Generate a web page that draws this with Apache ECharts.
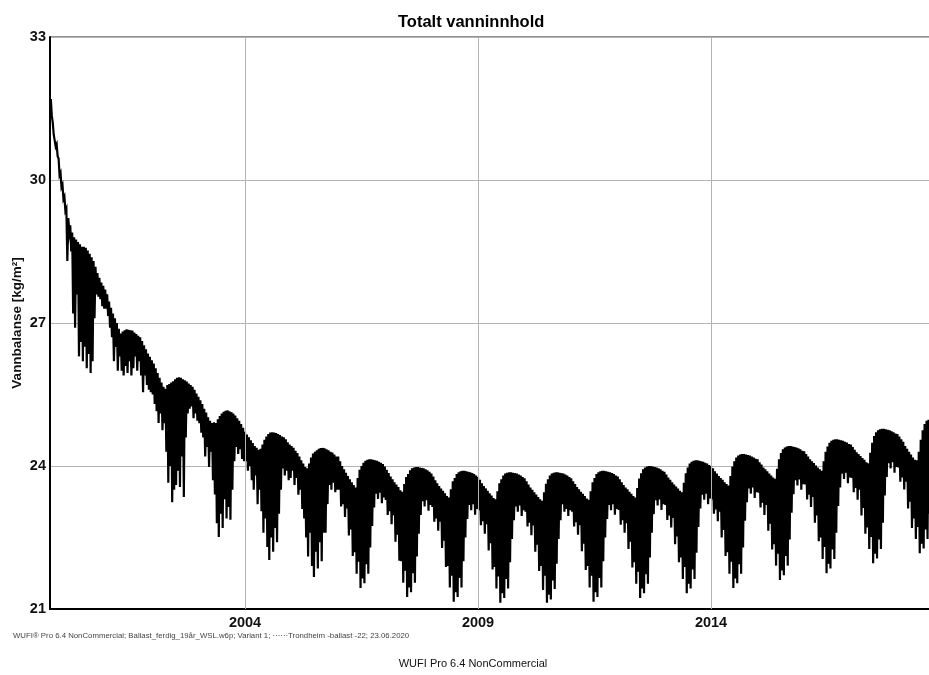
<!DOCTYPE html>
<html>
<head>
<meta charset="utf-8">
<title>Totalt vanninnhold</title>
<script src="https://cdn.jsdelivr.net/npm/echarts@6/dist/echarts.min.js"></script>
<style>
  html, body { margin: 0; padding: 0; background: #fff; }
  #chart { width: 929px; height: 675px; }
</style>
</head>
<body>
<div id="chart"></div>
<script>
// Total water content of the ballast layer, sampled twice a month.
// Each slot holds the upper level and the lower level reached within it.
const seasonYears = [1999, 2000, 2001, 2002, 2003, 2004, 2005, 2006, 2007, 2008,
                     2009, 2010, 2011, 2012, 2013, 2014, 2015, 2016, 2017, 2018];
const firstSlot = 20;      // 1999 starts at slot 20 of 24
const slotsPerYear = 24;

const upperLevels = [
  [31.7, 31.2, 30.95, 30.75],
  [30.45, 30.15, 29.9, 29.65, 29.4, 29.2, 29.05, 28.9, 28.8, 28.75, 28.7, 28.65, 28.6, 28.6, 28.58, 28.52, 28.45, 28.38, 28.3, 28.18, 28.05, 27.95, 27.85, 27.78],
  [27.7, 27.6, 27.45, 27.32, 27.2, 27.1, 27.0, 26.88, 26.78, 26.82, 26.85, 26.87, 26.86, 26.85, 26.84, 26.8, 26.77, 26.73, 26.7, 26.62, 26.53, 26.45, 26.36, 26.29],
  [26.22, 26.15, 26.05, 25.95, 25.85, 25.75, 25.66, 25.62, 25.7, 25.72, 25.75, 25.78, 25.82, 25.85, 25.86, 25.85, 25.82, 25.8, 25.77, 25.73, 25.7, 25.66, 25.6, 25.52],
  [25.45, 25.38, 25.3, 25.2, 25.12, 25.02, 24.95, 24.9, 24.92, 24.9, 24.98, 25.05, 25.1, 25.14, 25.16, 25.17, 25.15, 25.13, 25.1, 25.06, 25.0, 24.95, 24.88, 24.8],
  [24.72, 24.66, 24.6, 24.54, 24.48, 24.42, 24.38, 24.34, 24.36, 24.45, 24.55, 24.62, 24.67, 24.7, 24.71, 24.7, 24.69, 24.67, 24.65, 24.62, 24.6, 24.56, 24.5, 24.45],
  [24.42, 24.38, 24.32, 24.27, 24.2, 24.12, 24.05, 23.98, 23.95, 24.05, 24.18, 24.26, 24.3, 24.33, 24.36, 24.38, 24.38, 24.37, 24.35, 24.33, 24.3, 24.28, 24.24, 24.2],
  [24.2, 24.1, 24.0, 23.93, 23.86, 23.79, 23.72, 23.66, 23.6, 23.55, 23.75, 23.92, 24.0, 24.07, 24.11, 24.13, 24.14, 24.14, 24.13, 24.12, 24.11, 24.09, 24.07, 24.04],
  [23.99, 23.92, 23.85, 23.78, 23.72, 23.66, 23.61, 23.56, 23.49, 23.46, 23.62, 23.77, 23.83, 23.91, 23.95, 23.97, 23.98, 23.98, 23.97, 23.96, 23.95, 23.93, 23.91, 23.88],
  [23.84, 23.78, 23.7, 23.64, 23.58, 23.53, 23.48, 23.43, 23.37, 23.34, 23.51, 23.68, 23.75, 23.83, 23.87, 23.89, 23.9, 23.9, 23.89, 23.88, 23.87, 23.85, 23.83, 23.8],
  [23.77, 23.71, 23.64, 23.58, 23.53, 23.48, 23.43, 23.38, 23.33, 23.3, 23.47, 23.64, 23.72, 23.8, 23.84, 23.86, 23.87, 23.87, 23.86, 23.85, 23.84, 23.82, 23.8, 23.77],
  [23.74, 23.68, 23.61, 23.55, 23.5, 23.45, 23.4, 23.35, 23.3, 23.27, 23.45, 23.63, 23.72, 23.8, 23.84, 23.86, 23.87, 23.87, 23.86, 23.85, 23.84, 23.82, 23.8, 23.77],
  [23.74, 23.68, 23.62, 23.56, 23.51, 23.46, 23.42, 23.37, 23.32, 23.29, 23.47, 23.66, 23.75, 23.83, 23.87, 23.89, 23.9, 23.9, 23.89, 23.88, 23.87, 23.85, 23.83, 23.8],
  [23.78, 23.72, 23.66, 23.6, 23.55, 23.51, 23.46, 23.42, 23.37, 23.34, 23.54, 23.74, 23.85, 23.93, 23.97, 23.99, 24.0, 24.0, 23.99, 23.98, 23.97, 23.95, 23.93, 23.9],
  [23.88, 23.82, 23.76, 23.71, 23.66, 23.61, 23.57, 23.53, 23.48, 23.45, 23.65, 23.85, 23.97, 24.05, 24.09, 24.11, 24.12, 24.12, 24.11, 24.1, 24.09, 24.07, 24.05, 24.02],
  [24.0, 23.95, 23.89, 23.84, 23.79, 23.75, 23.71, 23.66, 23.62, 23.59, 23.79, 23.99, 24.1, 24.18, 24.22, 24.24, 24.25, 24.25, 24.24, 24.23, 24.22, 24.2, 24.18, 24.15],
  [24.14, 24.08, 24.03, 23.97, 23.93, 23.89, 23.84, 23.8, 23.76, 23.73, 23.94, 24.14, 24.27, 24.35, 24.39, 24.41, 24.42, 24.42, 24.41, 24.4, 24.39, 24.37, 24.35, 24.32],
  [24.31, 24.25, 24.2, 24.14, 24.1, 24.06, 24.01, 23.97, 23.93, 23.9, 24.1, 24.3, 24.41, 24.49, 24.53, 24.55, 24.56, 24.56, 24.55, 24.54, 24.53, 24.51, 24.49, 24.46],
  [24.45, 24.4, 24.34, 24.29, 24.25, 24.21, 24.17, 24.13, 24.08, 24.06, 24.28, 24.49, 24.63, 24.71, 24.75, 24.77, 24.78, 24.78, 24.77, 24.76, 24.75, 24.73, 24.71, 24.68],
  [24.67, 24.62, 24.56, 24.51, 24.42, 24.36, 24.3, 24.24, 24.18, 24.13, 24.12, 24.3, 24.55, 24.75, 24.88, 24.95, 24.97, 24.97]
];

const lowerLevels = [
  [31.35, 30.95, 30.7, 30.5],
  [30.1, 29.85, 29.6, 29.35, 28.3, 28.9, 28.5, 27.2, 26.9, 27.6, 26.3, 26.6, 26.2, 26.5, 26.05, 26.35, 25.95, 26.2, 27.1, 27.6, 27.55, 27.5, 27.35, 27.3],
  [27.3, 27.15, 26.9, 26.7, 26.2, 26.5, 26.0, 26.3, 26.0, 25.9, 26.1, 25.95, 26.2, 25.9, 26.05, 26.3, 26.0, 26.2, 25.9, 25.55, 25.9, 25.7, 25.6, 25.55],
  [25.5, 25.3, 25.15, 24.9, 25.1, 24.75, 24.9, 24.3, 23.65, 24.0, 23.24, 23.5, 23.6, 23.9, 23.56, 24.2, 23.35, 24.6, 25.1, 25.2, 25.25, 25.0, 25.1, 24.95],
  [24.9, 24.7, 24.6, 24.2, 24.4, 23.98, 24.3, 23.7, 23.4, 22.8, 22.51, 23.0, 22.7, 23.3, 22.9, 23.14, 22.87, 23.5, 24.1, 24.4, 24.25, 24.35, 24.15, 24.1],
  [24.1, 23.9, 24.0, 23.7, 23.5, 23.8, 23.2, 23.5, 23.05, 22.6, 22.9, 22.3, 22.03, 22.5, 22.2, 22.7, 22.4, 23.0, 23.5, 23.95, 23.8, 23.9, 23.7, 23.75],
  [23.9, 23.6, 23.75, 23.4, 23.5, 23.1, 22.9, 22.5, 22.1, 22.6, 21.9, 21.67, 22.2, 21.85, 22.4, 22.0, 22.6, 22.6, 23.2, 23.6, 23.5, 23.65, 23.45, 23.5],
  [23.5, 23.15, 23.2, 22.93, 23.11, 22.54, 22.67, 22.11, 22.19, 21.74, 21.99, 21.44, 21.64, 21.54, 21.94, 21.74, 22.29, 22.74, 23.13, 23.42, 23.31, 23.44, 23.22, 23.34],
  [23.29, 22.97, 23.05, 22.78, 22.97, 22.41, 22.56, 22.01, 22.0, 21.55, 21.8, 21.25, 21.45, 21.35, 21.75, 21.55, 22.1, 22.58, 22.97, 23.26, 23.15, 23.28, 23.06, 23.18],
  [23.14, 22.83, 22.9, 22.64, 22.83, 22.28, 22.43, 21.88, 21.9, 21.45, 21.7, 21.15, 21.35, 21.25, 21.65, 21.45, 22.0, 22.5, 22.89, 23.18, 23.07, 23.2, 22.98, 23.1],
  [23.07, 22.76, 22.84, 22.58, 22.78, 22.23, 22.38, 21.83, 21.88, 21.43, 21.68, 21.13, 21.33, 21.23, 21.63, 21.43, 21.98, 22.47, 22.86, 23.15, 23.04, 23.17, 22.95, 23.07],
  [23.04, 22.73, 22.81, 22.55, 22.75, 22.2, 22.35, 21.8, 21.9, 21.4, 21.7, 21.13, 21.3, 21.2, 21.6, 21.42, 21.95, 22.47, 22.86, 23.2, 23.04, 23.1, 22.95, 23.07],
  [23.04, 22.73, 22.82, 22.56, 22.76, 22.21, 22.37, 21.82, 21.9, 21.45, 21.7, 21.15, 21.35, 21.25, 21.65, 21.45, 22.0, 22.5, 22.89, 23.18, 23.07, 23.2, 22.98, 23.1],
  [23.08, 22.77, 22.86, 22.6, 22.8, 22.26, 22.41, 21.87, 21.98, 21.53, 21.78, 21.23, 21.43, 21.33, 21.73, 21.53, 22.08, 22.6, 22.99, 23.28, 23.17, 23.3, 23.08, 23.2],
  [23.18, 22.87, 22.96, 22.71, 22.91, 22.36, 22.52, 21.98, 22.08, 21.63, 21.88, 21.33, 21.53, 21.43, 21.83, 21.63, 22.18, 22.72, 23.11, 23.4, 23.29, 23.42, 23.2, 23.32],
  [23.3, 23.0, 23.09, 22.84, 23.04, 22.5, 22.66, 22.11, 22.19, 21.74, 21.99, 21.44, 21.64, 21.54, 21.94, 21.74, 22.29, 22.85, 23.24, 23.53, 23.42, 23.55, 23.33, 23.45],
  [23.44, 23.13, 23.23, 22.97, 23.18, 22.64, 22.79, 22.25, 22.36, 21.91, 22.16, 21.61, 21.81, 21.71, 22.11, 21.91, 22.46, 23.02, 23.41, 23.7, 23.59, 23.72, 23.5, 23.62],
  [23.61, 23.3, 23.4, 23.14, 23.35, 22.81, 22.96, 22.42, 22.5, 22.05, 22.3, 21.75, 21.95, 21.85, 22.25, 22.05, 22.6, 23.16, 23.55, 23.84, 23.73, 23.86, 23.64, 23.76],
  [23.75, 23.45, 23.54, 23.29, 23.5, 22.96, 23.12, 22.58, 22.71, 22.26, 22.51, 21.96, 22.16, 22.06, 22.46, 22.26, 22.81, 23.38, 23.77, 24.06, 23.95, 24.08, 23.86, 23.98],
  [23.97, 23.67, 23.76, 23.51, 23.67, 23.11, 23.25, 22.7, 22.9, 22.47, 22.72, 22.17, 22.37, 22.27, 22.67, 22.47, 23.0, 23.55]
];

const yearTicks = [2004, 2009, 2014];
const yTicks = { min: 21, max: 33, step: 3 };
const axisStart = 1999.8155;
const axisEnd = 2018.699;   // plot runs one pixel past the right edge

const FONT = '"Liberation Sans", Arial, Helvetica, sans-serif';

// Zig-zag between the upper and lower level of every slot
const points = [];
seasonYears.forEach((yr, yi) => {
  const start = yi === 0 ? firstSlot : 0;
  upperLevels[yi].forEach((u, j) => {
    const t = yr + (start + j) / slotsPerYear;
    points.push([t, u]);
    points.push([t + 0.5 / slotsPerYear, lowerLevels[yi][j]]);
  });
});

const chart = echarts.init(document.getElementById('chart'), null, { renderer: 'canvas' });

chart.setOption({
  animation: false,
  backgroundColor: '#ffffff',
  title: {
    text: 'Totalt vanninnhold',
    left: 393,
    top: 9,
    textStyle: { fontFamily: FONT, fontSize: 16.5, fontWeight: 'bold', color: '#000' }
  },
  grid: {
    left: 50, right: -1, top: 37, bottom: 66,
    outerBoundsMode: 'none',
    containLabel: false,
    show: true, borderColor: '#222', borderWidth: 1, backgroundColor: 'transparent'
  },
  xAxis: {
    type: 'value',
    min: axisStart,
    max: axisEnd,
    axisLine: { show: true, lineStyle: { color: '#000', width: 2 } },
    axisTick: { show: false },
    splitLine: { show: false },
    axisLabel: {
      customValues: yearTicks,
      margin: 6,
      fontFamily: FONT, fontSize: 14.5, fontWeight: 'bold', color: '#111',
      formatter: v => String(Math.round(v))
    }
  },
  yAxis: {
    type: 'value',
    min: yTicks.min,
    max: yTicks.max,
    interval: yTicks.step,
    name: 'Vannbalanse [kg/m²]',
    nameLocation: 'middle',
    nameGap: 26,
    nameMoveOverlap: false,
    nameRotate: 90,
    nameTextStyle: { fontFamily: FONT, fontSize: 13.5, fontWeight: 'bold', color: '#111' },
    axisLine: { show: true, lineStyle: { color: '#000', width: 2 } },
    axisTick: { show: false },
    splitLine: { show: true, lineStyle: { color: '#b4b4b4', width: 1 } },
    axisLabel: {
      margin: 4,
      fontFamily: FONT, fontSize: 14.5, fontWeight: 'bold', color: '#111'
    }
  },
  series: [
    {
      // vertical grid lines at the labelled years
      type: 'line',
      data: [],
      z: 1,
      silent: true,
      markLine: {
        silent: true,
        animation: false,
        symbol: ['none', 'none'],
        label: { show: false },
        lineStyle: { color: '#b4b4b4', width: 1, type: 'solid' },
        data: yearTicks.map(y => ({ xAxis: y }))
      }
    },
    {
      name: 'Vannbalanse',
      type: 'line',
      data: points,
      z: 3,
      showSymbol: false,
      symbol: 'none',
      sampling: null,
      lineStyle: { color: '#000', width: 2.2, join: 'miter' },
      emphasis: { disabled: true }
    }
  ],
  graphic: [
    {
      type: 'text',
      x: 13, y: 636,
      style: {
        text: 'WUFI\u00ae Pro 6.4 NonCommercial; Ballast_ferdig_19\u00e5r_WSL.w6p; Variant 1; \u00b7\u00b7\u00b7\u00b7\u00b7\u00b7Trondheim -ballast -22; 23.06.2020',
        font: '7.8px ' + FONT,
        fill: '#444',
        verticalAlign: 'middle'
      }
    },
    {
      type: 'text',
      x: 473, y: 664,
      style: {
        text: 'WUFI Pro 6.4 NonCommercial',
        font: '11px ' + FONT,
        fill: '#111',
        align: 'center',
        verticalAlign: 'middle'
      }
    }
  ]
});
</script>
</body>
</html>
